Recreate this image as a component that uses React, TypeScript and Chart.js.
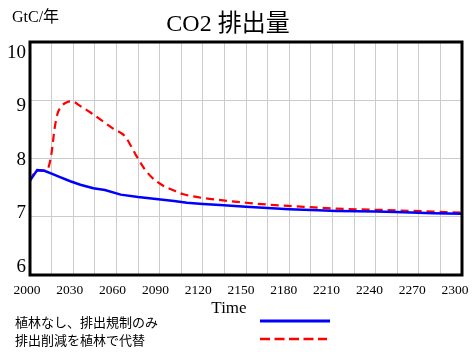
import React, { useEffect, useRef } from "react";
import { Chart, registerables } from "chart.js";

Chart.register(...registerables);

const chartTitle = "CO2 排出量";
const yUnit = "GtC/年";
const xTitle = "Time";

const seriesNames = ["植林なし、排出規制のみ", "排出削減を植林で代替"];

const blueYears = [2000, 2005, 2010, 2015, 2020, 2028, 2035, 2044, 2052, 2063, 2075, 2086, 2100, 2109, 2120, 2132, 2150, 2165, 2180, 2200, 2213, 2240, 2254, 2280, 2300];
const blueValues = [7.62, 7.8, 7.79, 7.74, 7.69, 7.61, 7.55, 7.49, 7.46, 7.38, 7.34, 7.31, 7.27, 7.24, 7.22, 7.2, 7.17, 7.15, 7.13, 7.11, 7.1, 7.09, 7.08, 7.06, 7.05];

const redYears = [2000, 2005, 2011, 2013, 2015, 2017, 2019, 2022, 2026, 2029, 2035, 2042, 2050, 2058, 2066, 2070, 2074, 2079, 2084, 2092, 2100, 2106, 2118, 2131, 2150, 2170, 2190, 2213, 2254, 2300];
const redValues = [7.62, 7.8, 7.79, 7.86, 8.1, 8.5, 8.76, 8.9, 8.97, 8.98, 8.9, 8.79, 8.65, 8.51, 8.38, 8.22, 8.04, 7.84, 7.69, 7.54, 7.45, 7.39, 7.33, 7.29, 7.24, 7.2, 7.17, 7.14, 7.11, 7.07];

const xTickLabels = [2000, 2030, 2060, 2090, 2120, 2150, 2180, 2210, 2240, 2270, 2300];
const yTickLabels = [10, 9, 8, 7, 6];

const SERIF = '"Liberation Serif", "Times New Roman", "Noto Sans CJK JP", serif';
const SANS = '"Noto Sans CJK JP", "Noto Sans", sans-serif';

const decorPlugin = {
  id: "decor",
  afterDraw(chart: any) {
    const { ctx, chartArea, scales } = chart;
    const { left, right, top, bottom } = chartArea;
    ctx.save();
    // frame
    ctx.strokeStyle = "#000";
    ctx.lineWidth = 3;
    ctx.strokeRect(left, top, right - left, bottom - top);

    // x tick labels
    ctx.fillStyle = "#000";
    ctx.font = `13.5px ${SERIF}`;
    ctx.textAlign = "center";
    ctx.textBaseline = "middle";
    const xs = scales.x;
    const l2 = left - 3;
    const r2 = right - 7;
    xTickLabels.forEach((v) => {
      const p = xs.getPixelForValue(v);
      const px = l2 + ((p - left) / (right - left)) * (r2 - l2);
      ctx.fillText(String(v), px, bottom + 15);
    });

    // y tick labels
    const ys = scales.y;
    ctx.font = `19px ${SERIF}`;
    ctx.textAlign = "right";
    const t2 = top + 11;
    const b2 = bottom - 8;
    yTickLabels.forEach((v) => {
      const p = ys.getPixelForValue(v);
      const py = t2 + ((p - top) / (bottom - top)) * (b2 - t2);
      ctx.fillText(String(v), left - 4, py);
    });

    // unit label
    ctx.textAlign = "left";
    ctx.font = `16px ${SERIF}`;
    ctx.fillText(yUnit, 12, 18);

    // title
    ctx.textAlign = "center";
    ctx.font = `24px ${SERIF}`;
    ctx.fillText(chartTitle, 228, 25);

    // x title
    ctx.font = `17px ${SERIF}`;
    ctx.fillText(xTitle, 229, 309);

    // legend
    const ds = chart.data.datasets;
    const rows = [321, 339];
    ds.forEach((d: any, i: number) => {
      ctx.textAlign = "left";
      ctx.font = `13px ${SANS}`;
      ctx.fillStyle = "#000";
      ctx.fillText(d.label, 15, rows[i] + 1);
      ctx.beginPath();
      ctx.strokeStyle = d.borderColor;
      ctx.lineWidth = i === 0 ? 3 : 2.5;
      ctx.setLineDash(i === 0 ? [] : [10, 4.5]);
      ctx.moveTo(260, rows[i]);
      ctx.lineTo(i === 0 ? 330 : 327, rows[i]);
      ctx.stroke();
    });
    ctx.restore();
  },
};

export default function App() {
  const ref = useRef<HTMLCanvasElement | null>(null);
  useEffect(() => {
    if (!ref.current) return;
    const chart = new Chart(ref.current, {
      type: "line",
      data: {
        datasets: [
          {
            label: seriesNames[0],
            data: blueYears.map((x, i) => ({ x, y: blueValues[i] })),
            borderColor: "#0000ff",
            borderWidth: 2.5,
            pointRadius: 0,
            tension: 0,
          },
          {
            label: seriesNames[1],
            data: redYears.map((x, i) => ({ x, y: redValues[i] })),
            borderColor: "#ff0000",
            borderWidth: 2.2,
            borderDash: [8, 5],
            pointRadius: 0,
            cubicInterpolationMode: "monotone",
          },
        ],
      },
      options: {
        responsive: false,
        animation: false,
        layout: { padding: { left: 30, top: 42, right: 10, bottom: 77 } },
        plugins: { legend: { display: false }, tooltip: { enabled: false }, title: { display: false } },
        scales: {
          x: {
            type: "linear",
            min: 2000,
            max: 2300,
            ticks: { display: false, stepSize: 15 },
            grid: { color: "#cccccc", lineWidth: 1, drawTicks: false, tickLength: 0 },
            border: { display: false },
          },
          y: {
            type: "linear",
            min: 6,
            max: 10,
            ticks: { display: false, stepSize: 1 },
            grid: { color: "#cccccc", lineWidth: 1, drawTicks: false, tickLength: 0 },
            border: { display: false },
          },
        },
      },
      plugins: [decorPlugin],
    } as any);
    return () => chart.destroy();
  }, []);
  return (
    <div style={{ position: "fixed", left: 0, top: 0, width: 472, height: 352, background: "#fff" }}>
      <canvas ref={ref} width={472} height={352} style={{ width: 472, height: 352 }} />
    </div>
  );
}
